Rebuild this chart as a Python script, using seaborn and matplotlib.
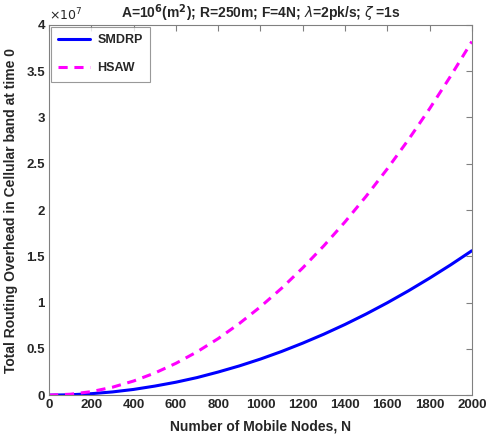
"""
Routing overhead in the cellular band vs number of mobile nodes.
"""
import numpy as np
import pandas as pd
import seaborn as sns
import matplotlib.pyplot as plt
from matplotlib.ticker import FuncFormatter

# Values (units of 1e7).
nodes = [0, 100, 200, 300, 400, 500, 600, 700, 800, 900, 1000,
         1100, 1200, 1300, 1400, 1500, 1600, 1700, 1800, 1900, 2000]
smdrp = [0, 0.004, 0.016, 0.035, 0.062, 0.098, 0.14, 0.19, 0.25, 0.316, 0.39,
         0.472, 0.562, 0.659, 0.764, 0.877, 0.998, 1.127, 1.264, 1.408, 1.56]
hsaw = [0, 0.010, 0.038, 0.086, 0.153, 0.239, 0.344, 0.468, 0.611, 0.774, 0.955,
        1.155, 1.375, 1.614, 1.872, 2.149, 2.445, 2.76, 3.094, 3.448, 3.82]
scale = 1e7


def main():
    df = pd.DataFrame({
        "N": nodes * 2,
        "overhead": np.array(smdrp + hsaw) * scale,
        "scheme": ["SMDRP"] * len(nodes) + ["HSAW"] * len(nodes),
    })

    sns.set_style("white")
    plt.rcParams["font.family"] = ["Liberation Sans", "DejaVu Sans"]

    fig = plt.figure(figsize=(4.91, 4.44), dpi=100)
    ax = fig.add_axes([0.1, 0.11, 0.861, 0.834])

    sns.lineplot(data=df, x="N", y="overhead", hue="scheme", style="scheme",
                 palette={"SMDRP": "#0000ff", "HSAW": "#ff00ff"},
                 dashes={"SMDRP": "", "HSAW": (3, 2.2)},
                 linewidth=2.2, ax=ax)

    ax.set_xlim(0, 2000)
    ax.set_ylim(0, 4 * scale)
    ax.set_xticks(range(0, 2001, 200))
    ax.set_yticks(np.arange(0, 4.01, 0.5) * scale)
    ax.yaxis.set_major_formatter(FuncFormatter(lambda v, p: f"{v / scale:g}"))

    # MATLAB-like box with inward ticks.
    for s in ax.spines.values():
        s.set_color("#808080")
        s.set_linewidth(0.8)
    ax.tick_params(direction="in", top=True, right=True, length=4,
                   color="#808080", labelsize=9.5, pad=3)
    for lbl in ax.get_xticklabels() + ax.get_yticklabels():
        lbl.set_fontweight("bold")

    ax.text(0.0, 1.005, r"$\times10^7$", transform=ax.transAxes,
            fontsize=9, va="bottom", ha="left")

    ax.set_title(r"A=10$^\mathbf{6}$(m$^\mathbf{2}$); R=250m; F=4N; "
                 r"$\lambda$=2pk/s; $\zeta$ =1s",
                 fontsize=10, fontweight="bold", pad=5)
    ax.set_xlabel("Number of Mobile Nodes, N", fontsize=10, fontweight="bold",
                  labelpad=6)
    ax.set_ylabel("Total Routing Overhead in Cellular band at time 0",
                  fontsize=10, fontweight="bold", labelpad=6)

    leg = ax.legend(loc="upper left", fancybox=False, edgecolor="#808080",
                    fontsize=9, borderpad=0.6, handlelength=2.5,
                    labelspacing=1.3, borderaxespad=0.15, handletextpad=0.6)
    leg.get_frame().set_linewidth(0.8)
    for t in leg.get_texts():
        t.set_fontweight("bold")

    plt.savefig("out.png", dpi=100)


if __name__ == "__main__":
    main()
